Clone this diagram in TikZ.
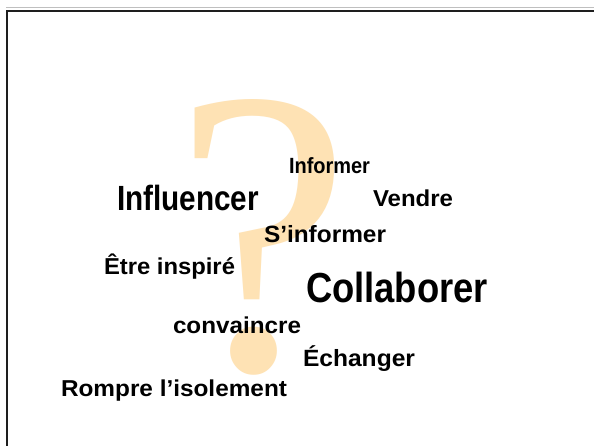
\documentclass[tikz,border=0pt]{standalone}
\usepackage{fontspec}
\usepackage{graphicx}
\setmainfont{Liberation Sans}
\newfontfamily\qfont{Liberation Serif}
\definecolor{qpeach}{RGB}{254,226,180}
\definecolor{framec}{RGB}{30,30,30}
\newcommand\wfit[3]{\resizebox{#1pt}{\height}{\fontsize{#2}{#2}\selectfont\bfseries #3}}
\begin{document}
\begin{tikzpicture}[x=1pt,y=-1pt,
  word/.style={inner sep=0pt, outer sep=0pt, anchor=base west, text=black}]
\useasboundingbox (0,0) rectangle (594,446);
\fill[white] (0,0) rectangle (594,446);
% frame
\draw[black!25, line width=1pt] (6,8) -- (594,8);
\draw[framec, line width=2pt] (7,460) -- (7,11) -- (610,11);
% question mark
\node[inner sep=0pt, anchor=base west, text=qpeach] (qm) at (174,369)
  {\scalebox{0.96}[0.985]{\qfont\fontsize{414}{414}\selectfont ?}};
% words
\node[word] (informer) at (289,174) {\wfit{81}{22}{Informer}};
\node[word] (influencer) at (117,211) {\wfit{142}{35}{Influencer}};
\node[word] (vendre) at (373,207) {\wfit{80}{23}{Vendre}};
\node[word] (sinformer) at (264,243) {\wfit{122}{23.5}{S’informer}};
\node[word] (etre) at (104,275) {\wfit{131}{23}{Être inspiré}};
\node[word] (collab) at (306,302) {\wfit{182}{42}{Collaborer}};
\node[word] (convaincre) at (173,333) {\wfit{128}{23}{convaincre}};
\node[word] (echanger) at (303,366) {\wfit{112}{23.5}{Échanger}};
\node[word] (rompre) at (61,396) {\wfit{226}{23}{Rompre l’isolement}};
\end{tikzpicture}
\end{document}
